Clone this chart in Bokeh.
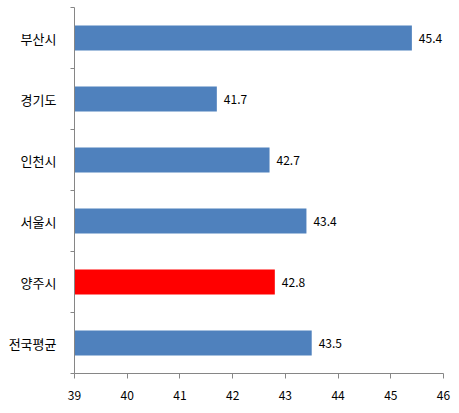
from bokeh.plotting import figure
from bokeh.models import Range1d, FixedTicker, ColumnDataSource
from bokeh.embed import file_html
from bokeh.resources import INLINE
from bokeh.core.properties import value

# data (top to bottom in the picture)
regions = ["부산시", "경기도", "인천시", "서울시", "양주시", "전국평균"]
ages = [45.4, 41.7, 42.7, 43.4, 42.8, 43.5]
colors = ["#4F81BD", "#4F81BD", "#4F81BD", "#4F81BD", "#FF0000", "#4F81BD"]
x_ticks = [39, 40, 41, 42, 43, 44, 45, 46]

n = len(regions)
ypos = [n - 0.5 - i for i in range(n)]

src = ColumnDataSource(dict(
    y=ypos, v=ages, c=colors,
    lab=[f"{a:.1f}" for a in ages],
))

p = figure(width=459, height=413, output_backend="svg", toolbar_location=None,
           x_range=Range1d(39, 46), y_range=Range1d(0, n),
           min_border_left=74, min_border_right=16, min_border_top=7, min_border_bottom=40,
           frame_width=369, frame_height=366)
p.outline_line_color = None
p.xgrid.grid_line_color = None
p.ygrid.grid_line_color = None
p.background_fill_color = "white"
p.border_fill_color = "white"

p.hbar(y="y", left=39, right="v", height=0.41, fill_color="c", line_color=None, source=src)
p.text(x="v", y="y", text="lab", source=src, x_offset=7, text_baseline="middle",
       text_align="left", text_font_size="12px", text_color="#000000",
       text_font=value("Noto Sans CJK KR"))

# x axis
xa = p.xaxis[0]
xa.ticker = FixedTicker(ticks=x_ticks)
xa.axis_line_color = "#868686"
xa.major_tick_line_color = "#868686"
xa.major_tick_out = 5
xa.major_tick_in = 0
xa.minor_tick_line_color = None
xa.major_label_standoff = 12
xa.major_label_text_font_size = "12px"
xa.major_label_text_color = "#000000"
xa.major_label_text_font = "Noto Sans CJK KR"

# y axis
ya = p.yaxis[0]
ya.ticker = FixedTicker(ticks=ypos, minor_ticks=list(range(n + 1)))
ya.major_label_overrides = {y: r for y, r in zip(ypos, regions)}
ya.axis_line_color = "#868686"
ya.major_tick_line_color = None
ya.major_tick_out = 0
ya.major_tick_in = 0
ya.minor_tick_line_color = "#868686"
ya.minor_tick_out = 4
ya.minor_tick_in = 0
ya.major_label_standoff = 14
ya.major_label_text_font_size = "13px"
ya.major_label_text_color = "#000000"
ya.major_label_text_font = "Noto Sans CJK KR"

open("out.html", "w").write(file_html(p, INLINE))
